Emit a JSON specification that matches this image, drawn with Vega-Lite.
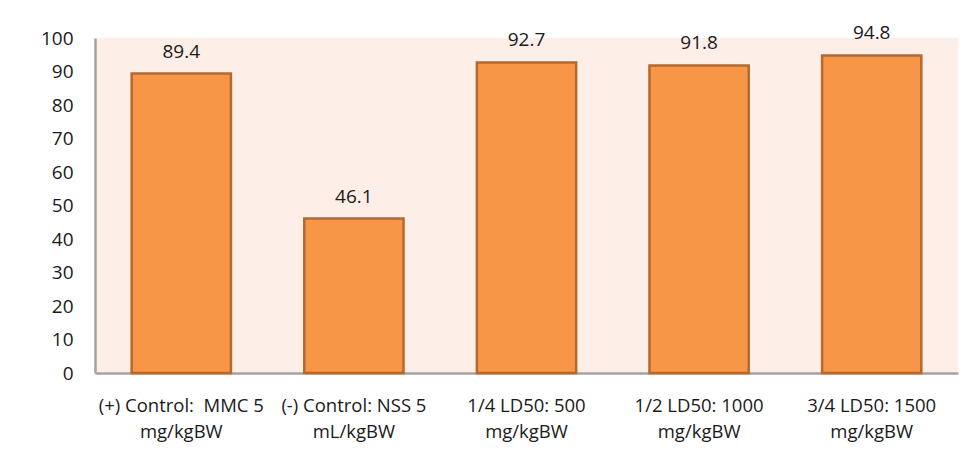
{
  "$schema": "https://vega.github.io/schema/vega-lite/v6.json",
  "width": 863,
  "height": 335,
  "autosize": {"type": "none"},
  "padding": {"left": 95, "top": 38, "right": 15, "bottom": 94},
  "background": "#ffffff",
  "config": {
    "font": "Open Sans",
    "view": {"fill": "#FDEEE7", "stroke": null}
  },
  "data": {
    "values": [
      {"group": "(+) Control:\u00a0 MMC 5\nmg/kgBW", "value": 89.4},
      {"group": "(-) Control: NSS 5\nmL/kgBW", "value": 46.1},
      {"group": "1/4 LD50: 500\nmg/kgBW", "value": 92.7},
      {"group": "1/2 LD50: 1000\nmg/kgBW", "value": 91.8},
      {"group": "3/4 LD50: 1500\nmg/kgBW", "value": 94.8}
    ]
  },
  "encoding": {
    "x": {
      "field": "group",
      "type": "nominal",
      "sort": null,
      "scale": {"paddingInner": 0.425, "paddingOuter": 0.2125},
      "axis": {
        "title": null,
        "labelAngle": 0,
        "labelExpr": "split(datum.label, '\\n')",
        "labelFontSize": 18.5,
        "labelColor": "#1a1a1a",
        "labelLineHeight": 26,
        "labelBaseline": "top",
        "labelPadding": 23,
        "ticks": false,
        "domainColor": "#a3a3a3",
        "domainWidth": 2.5
      }
    },
    "y": {
      "field": "value",
      "type": "quantitative",
      "scale": {"domain": [0, 100], "nice": false},
      "axis": {
        "title": null,
        "values": [0, 10, 20, 30, 40, 50, 60, 70, 80, 90, 100],
        "grid": false,
        "ticks": false,
        "labelFontSize": 19,
        "labelColor": "#1a1a1a",
        "labelPadding": 22,
        "domainColor": "#a3a3a3",
        "domainWidth": 2.5
      }
    }
  },
  "layer": [
    {
      "mark": {"type": "bar", "fill": "#F79646", "stroke": "#B5692D", "strokeWidth": 2.5}
    },
    {
      "mark": {"type": "text", "baseline": "alphabetic", "dy": -16, "fontSize": 19, "color": "#1a1a1a"},
      "encoding": {"text": {"field": "value", "type": "quantitative", "format": ".1f"}}
    }
  ]
}
